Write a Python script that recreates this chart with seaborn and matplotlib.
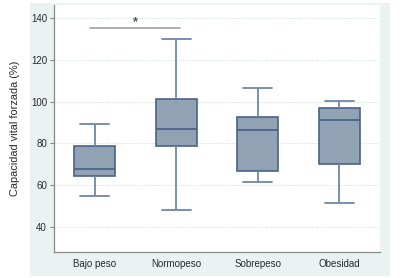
import matplotlib
matplotlib.use("Agg")
import matplotlib.pyplot as plt
import seaborn as sns
import pandas as pd

# Five-number summaries per group (min, Q1, median, Q3, max)
categories = ["Bajo peso", "Normopeso", "Sobrepeso", "Obesidad"]
bajo_peso = [55, 64.5, 67.5, 78.6, 89.3]
normopeso = [48.2, 78.7, 87.0, 101.0, 130.0]
sobrepeso = [61.3, 67.0, 86.3, 92.4, 106.3]
obesidad = [51.3, 70.0, 91.3, 97.1, 100.1]
yticks = [40, 60, 80, 100, 120, 140]
sig_y = 135.4

rows = []
for cat, vals in zip(categories, [bajo_peso, normopeso, sobrepeso, obesidad]):
    for v in vals:
        rows.append({"grupo": cat, "cvf": v})
df = pd.DataFrame(rows)

sns.set_style("white")
plt.rcParams["font.family"] = ["Liberation Sans", "DejaVu Sans"]

fig = plt.figure(figsize=(4.01, 2.78), dpi=100, facecolor="white")
W, H = 401, 278
bg = fig.add_axes([30 / W, 2 / H, 360 / W, 273 / H], zorder=-1)
bg.set_facecolor("#EAF2F2")
bg.set_xticks([])
bg.set_yticks([])
for s in bg.spines.values():
    s.set_visible(False)

ax = fig.add_axes([54 / W, 26 / H, 326 / W, 247 / H], zorder=1)
ax.set_facecolor("white")

edge = "#4A6386"
wcol = "#6E88A6"
sns.boxplot(data=df, x="grupo", y="cvf", order=categories, ax=ax,
            whis=(0, 100), width=0.5, color="#90A2B4", linecolor=edge,
            linewidth=1.0, saturation=1, capwidths=0.35,
            whiskerprops=dict(color=wcol, linewidth=1.3),
            capprops=dict(color=wcol, linewidth=1.3),
            medianprops=dict(color=edge, linewidth=1.3),
            boxprops=dict(edgecolor=edge, linewidth=1.2))

ax.plot([-0.06, 1.04], [sig_y, sig_y], color="#A8A8A8", lw=1.3, zorder=3)
ax.text(0.5, sig_y + 2.6, "*", ha="center", va="center", fontsize=9,
        fontweight="bold", color="#555555")

ax.set_xlim(-0.5, 3.5)
ax.set_ylim(28, 146.2)
ax.set_yticks(yticks)
ax.yaxis.grid(True, linestyle=(0, (1, 1.5)), color="#CFDCDC", linewidth=0.7)
ax.set_axisbelow(True)
for s in ["top", "right"]:
    ax.spines[s].set_visible(False)
for s in ["left", "bottom"]:
    ax.spines[s].set_color("#8A8A8A")
    ax.spines[s].set_linewidth(0.9)
ax.tick_params(axis="y", length=3, width=0.8, color="#8A8A8A", labelsize=7,
               labelcolor="#2A2A2A", pad=2, left=True)
ax.tick_params(axis="x", length=0, labelsize=7, labelcolor="#2A2A2A", pad=5)
ax.set_xlabel("")
ax.set_ylabel("Capacidad vital forzada (%)", fontsize=7.9, color="#2A2A2A", labelpad=8)

fig.savefig("out.png", dpi=100, facecolor="white")
